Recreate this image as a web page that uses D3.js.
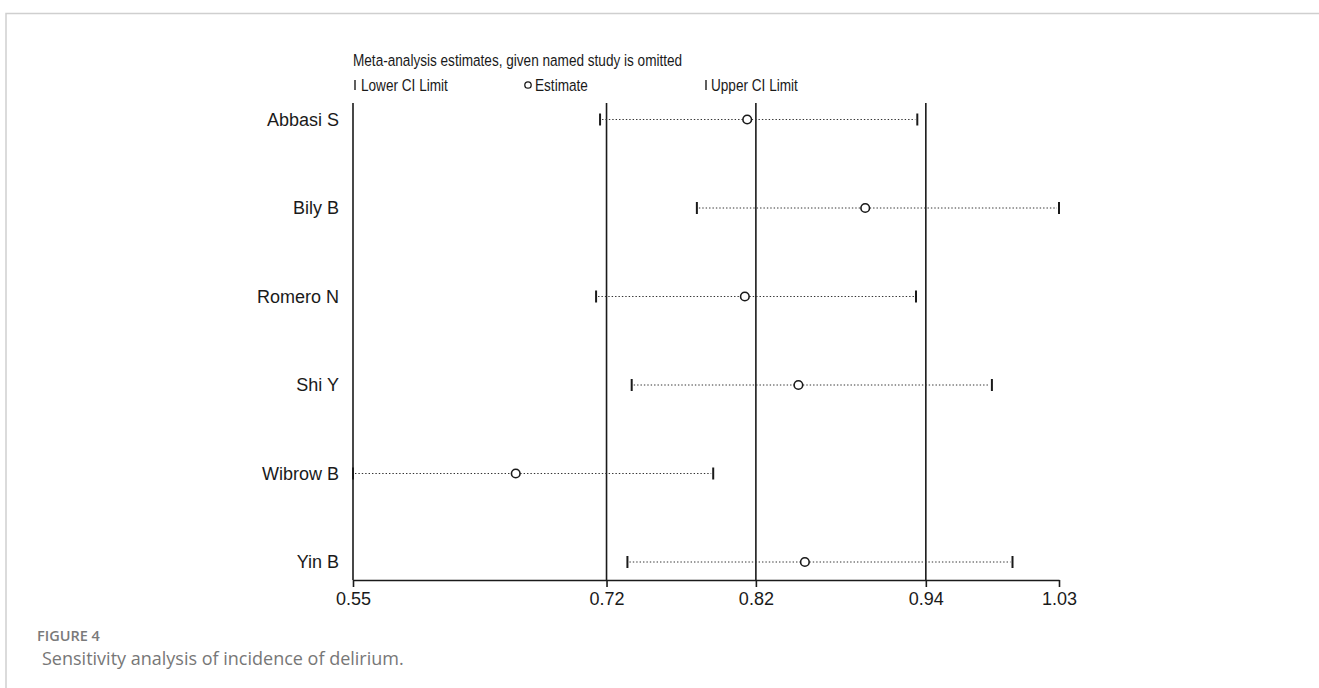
<!DOCTYPE html>
<html>
<head>
<meta charset="utf-8">
<script src="https://cdn.jsdelivr.net/npm/d3@7"></script>
<style>
  html, body { margin: 0; padding: 0; background: #fff; }
  svg { display: block; }
</style>
</head>
<body>
<svg id="chart"></svg>
<script>
// Studies omitted, one per row
const studies = ["Abbasi S", "Bily B", "Romero N", "Shi Y", "Wibrow B", "Yin B"];
// Pooled estimate and CI when the named study is left out
const lowerCI  = [0.7180, 0.7838, 0.7153, 0.7395, 0.5501, 0.7366];
const estimate = [0.8180, 0.8982, 0.8164, 0.8528, 0.6607, 0.8572];
const upperCI  = [0.9336, 1.0299, 0.9327, 0.9843, 0.7949, 0.9983];

// Overall estimate (with all studies) -> reference lines
const overall = [0.7224, 0.8239, 0.9394];

// Axis ticks: min, overall lower, estimate, upper, max
const tickValues = [0.5501, 0.7224, 0.8239, 0.9394, 1.0299];
const tickLabels = ["0.55", "0.72", "0.82", "0.94", "1.03"];

const width = 1319, height = 688;
const svg = d3.select("#chart").attr("width", width).attr("height", height);

// figure frame (top + left border)
svg.append("path")
    .attr("d", `M6,688V13.5H1319`)
    .attr("fill", "none")
    .attr("stroke", "#cfcfcf")
    .attr("stroke-width", 1.5);

const plotTop = 103, plotBottom = 580;
const x = d3.scaleLinear().domain([tickValues[0], tickValues[4]]).range([353, 1059]);
const y = d3.scalePoint().domain(studies).range([119.5, 562]);

const ink = "#1a1a1a";
const font = "'Liberation Sans', Arial, sans-serif";

// x axis with d3 axis
const xAxis = d3.axisBottom(x)
    .tickValues(tickValues)
    .tickFormat((d, i) => tickLabels[i])
    .tickSize(7)
    .tickSizeOuter(0)
    .tickPadding(5);

const axisG = svg.append("g")
    .attr("transform", `translate(0,${plotBottom})`)
    .call(xAxis);
axisG.select(".domain").attr("stroke", ink).attr("stroke-width", 1.6);
axisG.selectAll(".tick line").attr("stroke", ink).attr("stroke-width", 1.6);
axisG.selectAll(".tick text")
    .attr("fill", ink)
    .attr("font-family", font)
    .attr("font-size", 18);

// left line at minimum + overall reference lines
svg.append("g")
    .selectAll("line")
    .data([tickValues[0]].concat(overall))
    .join("line")
    .attr("x1", d => x(d)).attr("x2", d => x(d))
    .attr("y1", plotTop).attr("y2", plotBottom)
    .attr("stroke", ink)
    .attr("stroke-width", 1.6);

// study labels
svg.append("g")
    .selectAll("text")
    .data(studies)
    .join("text")
    .attr("x", 339)
    .attr("y", d => y(d) + 6)
    .attr("text-anchor", "end")
    .attr("font-family", font)
    .attr("font-size", 18)
    .attr("fill", ink)
    .text(d => d);

const rows = studies.map((s, i) => ({ s, lo: lowerCI[i], est: estimate[i], hi: upperCI[i] }));

// dotted CI lines (broken at the marker)
const dots = svg.append("g")
    .attr("stroke", "#333")
    .attr("stroke-width", 1)
    .attr("stroke-dasharray", "1.4,2");
dots.selectAll("line.left")
    .data(rows)
    .join("line")
    .attr("class", "left")
    .attr("x1", d => x(d.lo) + 2).attr("x2", d => x(d.est) - 4.5)
    .attr("y1", d => y(d.s)).attr("y2", d => y(d.s));
dots.selectAll("line.right")
    .data(rows)
    .join("line")
    .attr("class", "right")
    .attr("x1", d => x(d.est) + 4.5).attr("x2", d => x(d.hi) - 2)
    .attr("y1", d => y(d.s)).attr("y2", d => y(d.s));

// CI caps
const caps = svg.append("g").attr("stroke", ink).attr("stroke-width", 2);
caps.selectAll("line")
    .data(rows.flatMap(d => [{ s: d.s, v: d.lo }, { s: d.s, v: d.hi }]))
    .join("line")
    .attr("x1", d => x(d.v)).attr("x2", d => x(d.v))
    .attr("y1", d => y(d.s) - 6).attr("y2", d => y(d.s) + 6);

// estimate markers
svg.append("g")
    .selectAll("circle")
    .data(rows)
    .join("circle")
    .attr("cx", d => x(d.est))
    .attr("cy", d => y(d.s))
    .attr("r", 4.3)
    .attr("fill", "#fff")
    .attr("stroke", ink)
    .attr("stroke-width", 1.6);

// legend (narrow type, like the original)
const narrow = 0.8;
function legendText(tx, ty, str) {
    svg.append("text")
        .attr("transform", `translate(${tx},${ty}) scale(${narrow},1)`)
        .attr("font-family", font)
        .attr("font-size", 17)
        .attr("fill", ink)
        .text(str);
}
legendText(353, 66, "Meta-analysis estimates, given named study is omitted");
legendText(361, 91, "Lower CI Limit");
legendText(535, 91, "Estimate");
legendText(711, 91, "Upper CI Limit");

svg.append("g")
    .attr("stroke", ink).attr("stroke-width", 1.4)
    .selectAll("line")
    .data([355, 706])
    .join("line")
    .attr("x1", d => d).attr("x2", d => d)
    .attr("y1", 80).attr("y2", 90);
svg.append("circle")
    .attr("cx", 528).attr("cy", 85).attr("r", 3.2)
    .attr("fill", "#fff").attr("stroke", ink).attr("stroke-width", 1.3);

// caption
svg.append("text")
    .attr("x", 37).attr("y", 641)
    .attr("font-family", "'Open Sans', sans-serif")
    .attr("font-weight", 600)
    .attr("font-size", 14.5)
    .attr("fill", "#7a7a7a")
    .text("FIGURE 4");
svg.append("text")
    .attr("x", 42).attr("y", 665)
    .attr("font-family", "'Open Sans', sans-serif")
    .attr("font-size", 18)
    .attr("fill", "#777")
    .text("Sensitivity analysis of incidence of delirium.");
</script>
</body>
</html>
